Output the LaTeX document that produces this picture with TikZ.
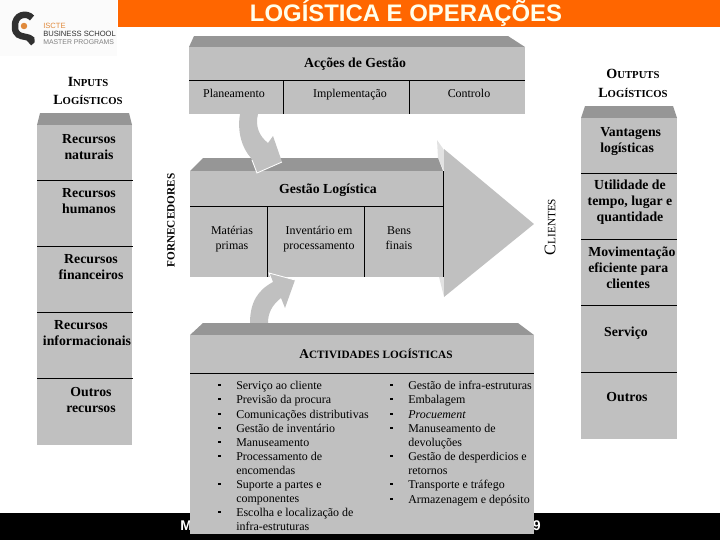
\documentclass[tikz,border=0pt]{standalone}
\usepackage{fontspec}
\setmainfont{Liberation Serif}
\newfontfamily\titlefont{Liberation Sans}
\definecolor{panelgray}{HTML}{C0C0C0}
\definecolor{bevelgray}{HTML}{969696}
\definecolor{wedgegray}{HTML}{E2E2E2}
\definecolor{titleorange}{HTML}{FF6600}
\definecolor{logodark}{HTML}{303030}
\definecolor{logoorange}{HTML}{E08A3C}
\newcommand{\capword}[2]{{\fontsize{10}{11.4}\selectfont #1}{\fontsize{7.6}{11.4}\selectfont #2}}
\tikzset{
	panel/.style={fill=panelgray, draw=none},
	bevel/.style={fill=bevelgray, draw=none},
	divider/.style={black, line width=0.7pt},
	boldlabel/.style={inner sep=0pt, align=center, yshift=-1.4pt, font=\fontsize{9.8}{11.4}\selectfont\bfseries, execute at begin node=\strut, execute at end node=\strut},
	plainlabel/.style={inner sep=0pt, align=center, yshift=-1.4pt, font=\fontsize{8.5}{10}\selectfont, execute at begin node=\strut, execute at end node=\strut},
	capslabel/.style={inner sep=0pt, align=center, font=\bfseries},
	listitem/.style={inner sep=0pt, anchor=west, yshift=-1.2pt, font=\fontsize{8.5}{10}\selectfont, execute at begin node=\strut},
	listbullet/.style={fill=black, inner sep=0pt, minimum size=2pt},
	logotext/.style={inner sep=0pt, anchor=west, font=\titlefont\fontsize{5.4}{6}\selectfont},
}

\begin{document}
\begin{tikzpicture}[x=0.25mm, y=-0.25mm]
	\useasboundingbox (0, 0) rectangle (720, 540);
	% Logo
	\fill[white!97!gray] (0, 0) rectangle (117, 56);
	\draw[logodark, line width=4.6pt]
		(32, 18) .. controls (27, 12) and (14, 14) .. (15, 27)
		.. controls (15, 35) and (20, 36) .. (26, 37)
		.. controls (31, 38) and (34, 40) .. (29, 43);
	\fill[logoorange] (24, 26) circle (2.3pt);
	\node[logotext, text=logoorange] (logoa) at (43, 26) {ISCTE};
	\node[logotext, text=logodark] (logob) at (43, 34) {BUSINESS SCHOOL};
	\node[logotext, text=gray, font=\titlefont\fontsize{4.9}{6}\selectfont] (logoc) at (43, 42) {MASTER PROGRAMS};
	% Title bar
	\fill[titleorange] (118, 0) rectangle (720, 27);
	\node[inner sep=0pt, text=white!92!yellow, font=\titlefont\fontsize{17}{18}\selectfont\bfseries] (title) at (406, 13.5) {LOGÍSTICA E OPERAÇÕES};
	% Footer
	\fill[black] (0, 513) rectangle (720, 540);
	\node[inner sep=0pt, anchor=west, text=white, font=\titlefont\fontsize{10}{12}\selectfont\bfseries] (footl) at (180, 526) {M-};
	\node[inner sep=0pt, anchor=east, text=white, font=\titlefont\fontsize{10}{12}\selectfont\bfseries] (footr) at (541, 526) {9};
	% Management actions
	\fill[bevel] (194, 36) -- (508, 36) -- (525, 47) -- (189, 47) -- cycle;
	\fill[panel] (189, 47) rectangle (525, 114);
	\draw[divider] (189, 80) -- (525, 80);
	\draw[divider] (283, 80) -- (283, 114);
	\draw[divider] (409, 80) -- (409, 114);
	\node[boldlabel] (accoes) at (355, 62) {Acções de Gestão};
	\node[plainlabel] (plan) at (234, 93) {Planeamento};
	\node[plainlabel] (impl) at (350, 93) {Implementação};
	\node[plainlabel] (ctrl) at (469, 93) {Controlo};
	% Inputs column
	\node[capslabel] (inputs) at (88, 91) {\capword{I}{NPUTS}\\[1pt]\capword{L}{OGÍSTICOS}};
	\fill[bevel] (40, 113) -- (129, 113) -- (132, 125) -- (37, 125) -- cycle;
	\fill[panel] (37, 125) rectangle (132, 445);
	\foreach \y in {180, 246, 312, 378}
		\draw[divider] (37, \y) -- (133, \y);
	\node[boldlabel] (naturais) at (89, 147) {Recursos\\naturais};
	\node[boldlabel] (humanos) at (89, 201.5) {Recursos\\humanos};
	\node[boldlabel] (financ) at (91, 267.5) {Recursos\\financeiros};
	\node[boldlabel] (inform) at (87, 333.5) {Recursos\hspace*{8.5pt}\\informacionais};
	\node[boldlabel] (outrosr) at (91, 400) {Outros\\recursos};
	% Suppliers and clients
	\node[inner sep=0pt, rotate=90, font=\fontsize{8}{9}\selectfont\bfseries] (fornec) at (171, 220.5) {FORNECEDORES};
	\node[inner sep=0pt, rotate=90, font=\fontsize{8}{9}\selectfont] (client) at (550, 227) {{\fontsize{11.5}{12}\selectfont C}LIENTES};
	% Outputs column
	\node[capslabel] (outputs) at (633, 83.5) {\capword{O}{UTPUTS}\\[1pt]\capword{L}{OGÍSTICOS}};
	\fill[bevel] (585, 106) -- (673, 106) -- (677, 118) -- (581, 118) -- cycle;
	\fill[panel] (581, 118) rectangle (677, 439);
	\foreach \y in {173, 239, 305, 372}
		\draw[divider] (581, \y) -- (677, \y);
	\node[boldlabel, anchor=west, align=left] (vantag) at (600, 140) {Vantagens\\logísticas};
	\node[boldlabel] (utilid) at (630, 201.5) {Utilidade de\\tempo, lugar e\\quantidade};
	\node[boldlabel, anchor=west, align=left] (movim) at (588, 268.5) {Movimentação\\eficiente para\\\hspace*{12.8pt}clientes};
	\node[boldlabel] (servico) at (626, 331) {Serviço};
	\node[boldlabel] (outrosv) at (627, 396) {Outros};
	% Big arrow head
	\fill[wedgegray] (437, 140) -- (444, 150) -- (444, 171) -- (438, 158) -- cycle;
	\fill[wedgegray] (439, 277) -- (444, 277) -- (444, 297) -- cycle;
	\fill[panel] (444, 149) -- (534, 224) -- (444, 297) -- cycle;
	% Logistics management
	\fill[bevel] (203, 158) -- (438, 158) -- (443, 171) -- (190, 171) -- cycle;
	\fill[panel] (190, 171) rectangle (443, 277);
	\draw[divider] (190, 206) -- (443, 206);
	\draw[divider] (443, 171) -- (443, 277);
	\draw[divider] (267, 206) -- (267, 277);
	\draw[divider] (364, 206) -- (364, 277);
	\node[boldlabel] (gestao) at (328, 188) {Gestão Logística};
	\node[plainlabel] (materias) at (232, 238) {Matérias\\[0.3pt]primas};
	\node[plainlabel] (invent) at (319, 238) {Inventário em\\[0.3pt]processamento};
	\node[plainlabel] (bens) at (399, 238) {Bens\\[0.3pt]finais};
	% Curved arrow, down
	\fill[panelgray] (240, 114) .. controls (237, 132) and (242, 148) .. (251, 158)
		-- (257, 173) -- (282, 162) -- (273, 136) -- (268, 143)
		.. controls (259, 136) and (255, 126) .. (258, 114) -- cycle;
	\draw[white, line width=0.6pt] (252, 160) -- (257, 173) -- (282, 162);
	% Curved arrow, up
	\fill[panelgray] (250, 323) .. controls (250, 302) and (258, 290) .. (273, 282)
		-- (269, 273) -- (295, 280) -- (285, 308) -- (281, 298)
		.. controls (272, 305) and (268, 313) .. (268, 323) -- cycle;
	\draw[white, line width=0.6pt] (272, 281) -- (269, 273) -- (295, 280);
	% Logistic activities
	\fill[bevel] (203, 323) -- (518, 323) -- (534, 335) -- (190, 335) -- cycle;
	\fill[panel] (190, 335) rectangle (534, 534);
	\draw[divider] (190, 373) -- (534, 373);
	\node[inner sep=0pt, font=\fontsize{8}{9}\selectfont\bfseries] (activ) at (376, 354) {{\fontsize{9.5}{9}\selectfont A}CTIVIDADES LOGÍSTICAS};
	% List, left
	\foreach \y/\item in {385/Serviço ao cliente, 399/Previsão da procura, 414/Comunicações distributivas, 428/Gestão de inventário, 442/Manuseamento, 456/Processamento de, 484/Suporte a partes e, 512/Escolha e localização de}{
		\node[listbullet] (bl\y) at (219.5, \y) {};
		\node[listitem] (tl\y) at (236, \y) {\item};
	}
	\node[listitem] (tl470) at (236, 470) {encomendas};
	\node[listitem] (tl498) at (236, 498) {componentes};
	\node[listitem] (tl526) at (236, 526) {infra-estruturas};
	% List, right
	\foreach \y/\item in {385/Gestão de infra-estruturas, 399/Embalagem, 414/{\itshape Procuement}, 428/Manuseamento de, 456/Gestão de desperdicios e, 484/Transporte e tráfego, 499/Armazenagem e depósito}{
		\node[listbullet] (br\y) at (391.5, \y) {};
		\node[listitem] (tr\y) at (408, \y) {\item};
	}
	\node[listitem] (tr442) at (408, 442) {devoluções};
	\node[listitem] (tr470) at (408, 470) {retornos};
\end{tikzpicture}
\end{document}
